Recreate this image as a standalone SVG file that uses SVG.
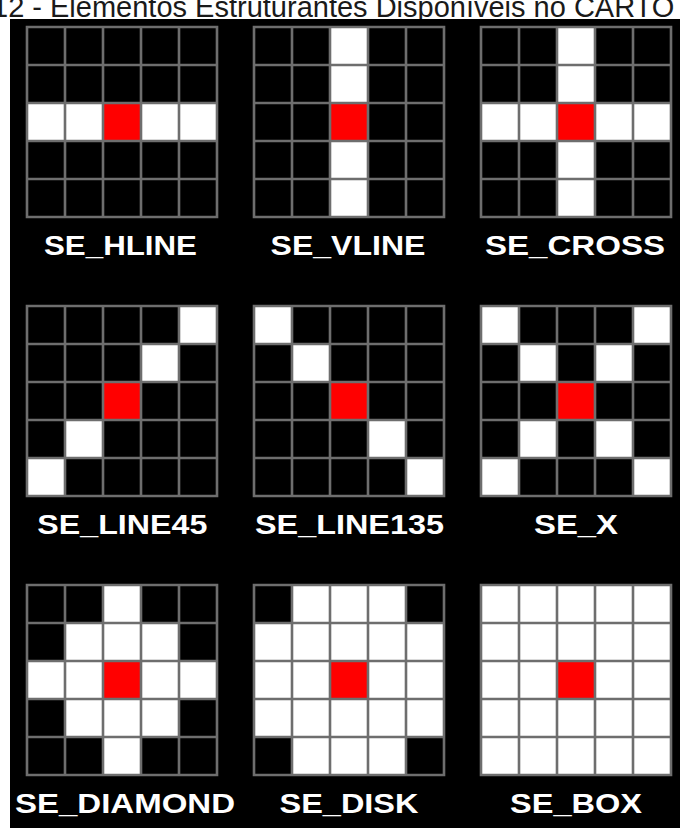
<svg xmlns="http://www.w3.org/2000/svg" xmlns:xlink="http://www.w3.org/1999/xlink" width="680" height="828" viewBox="0 0 680 828">
  <style>
    .title { font-family: "Liberation Sans", Arial, sans-serif; font-size: 29px; fill: #1a1a1a; }
    .lbl { font-family: "Liberation Sans", Arial, sans-serif; font-size: 28px; font-weight: bold; fill: #ffffff; text-anchor: middle; }
    .k { fill: #000000; }
    .w { fill: #ffffff; }
    .r { fill: #ff0000; }
    .gl { fill: none; stroke: #6e6e6e; stroke-width: 2.6; stroke-linecap: square; }
  </style>
  <defs>
    <path id="lines" class="gl" d="M0 0V190M38 0V190M76 0V190M114 0V190M152 0V190M190 0V190M0 0H190M0 38H190M0 76H190M0 114H190M0 152H190M0 190H190"/>
  </defs>
  <rect x="0" y="0" width="680" height="828" fill="#ffffff"/>
  <text class="title" x="-8" y="17">12 - Elementos Estruturantes Disponíveis no CARTO</text>
  <rect x="10" y="19" width="670" height="809" fill="#000000"/>

  <g id="se_hline">
    <g transform="translate(27,27)">
      <rect class="k" width="190" height="190"/>
      <rect class="w" x="0" y="76" width="38" height="38"/>
      <rect class="w" x="38" y="76" width="38" height="38"/>
      <rect class="w" x="114" y="76" width="38" height="38"/>
      <rect class="w" x="152" y="76" width="38" height="38"/>
      <rect class="r" x="76" y="76" width="38" height="38"/>
      <use xlink:href="#lines" href="#lines"/>
    </g>
    <text class="lbl" x="120.5" y="255" textLength="153" lengthAdjust="spacingAndGlyphs">SE_HLINE</text>
  </g>

  <g id="se_vline">
    <g transform="translate(254,27)">
      <rect class="k" width="190" height="190"/>
      <rect class="w" x="76" y="0" width="38" height="38"/>
      <rect class="w" x="76" y="38" width="38" height="38"/>
      <rect class="w" x="76" y="114" width="38" height="38"/>
      <rect class="w" x="76" y="152" width="38" height="38"/>
      <rect class="r" x="76" y="76" width="38" height="38"/>
      <use xlink:href="#lines" href="#lines"/>
    </g>
    <text class="lbl" x="348" y="255" textLength="155" lengthAdjust="spacingAndGlyphs">SE_VLINE</text>
  </g>

  <g id="se_cross">
    <g transform="translate(481,27)">
      <rect class="k" width="190" height="190"/>
      <rect class="w" x="76" y="0" width="38" height="38"/>
      <rect class="w" x="76" y="38" width="38" height="38"/>
      <rect class="w" x="76" y="114" width="38" height="38"/>
      <rect class="w" x="76" y="152" width="38" height="38"/>
      <rect class="w" x="0" y="76" width="38" height="38"/>
      <rect class="w" x="38" y="76" width="38" height="38"/>
      <rect class="w" x="114" y="76" width="38" height="38"/>
      <rect class="w" x="152" y="76" width="38" height="38"/>
      <rect class="r" x="76" y="76" width="38" height="38"/>
      <use xlink:href="#lines" href="#lines"/>
    </g>
    <text class="lbl" x="575" y="255" textLength="180" lengthAdjust="spacingAndGlyphs">SE_CROSS</text>
  </g>

  <g id="se_line45">
    <g transform="translate(27,306)">
      <rect class="k" width="190" height="190"/>
      <rect class="w" x="152" y="0" width="38" height="38"/>
      <rect class="w" x="114" y="38" width="38" height="38"/>
      <rect class="w" x="38" y="114" width="38" height="38"/>
      <rect class="w" x="0" y="152" width="38" height="38"/>
      <rect class="r" x="76" y="76" width="38" height="38"/>
      <use xlink:href="#lines" href="#lines"/>
    </g>
    <text class="lbl" x="122.3" y="534" textLength="170" lengthAdjust="spacingAndGlyphs">SE_LINE45</text>
  </g>

  <g id="se_line135">
    <g transform="translate(254,306)">
      <rect class="k" width="190" height="190"/>
      <rect class="w" x="0" y="0" width="38" height="38"/>
      <rect class="w" x="38" y="38" width="38" height="38"/>
      <rect class="w" x="114" y="114" width="38" height="38"/>
      <rect class="w" x="152" y="152" width="38" height="38"/>
      <rect class="r" x="76" y="76" width="38" height="38"/>
      <use xlink:href="#lines" href="#lines"/>
    </g>
    <text class="lbl" x="349.5" y="534" textLength="189" lengthAdjust="spacingAndGlyphs">SE_LINE135</text>
  </g>

  <g id="se_x">
    <g transform="translate(481,306)">
      <rect class="k" width="190" height="190"/>
      <rect class="w" x="0" y="0" width="38" height="38"/>
      <rect class="w" x="38" y="38" width="38" height="38"/>
      <rect class="w" x="114" y="114" width="38" height="38"/>
      <rect class="w" x="152" y="152" width="38" height="38"/>
      <rect class="w" x="152" y="0" width="38" height="38"/>
      <rect class="w" x="114" y="38" width="38" height="38"/>
      <rect class="w" x="38" y="114" width="38" height="38"/>
      <rect class="w" x="0" y="152" width="38" height="38"/>
      <rect class="r" x="76" y="76" width="38" height="38"/>
      <use xlink:href="#lines" href="#lines"/>
    </g>
    <text class="lbl" x="576" y="534" textLength="84" lengthAdjust="spacingAndGlyphs">SE_X</text>
  </g>

  <g id="se_diamond">
    <g transform="translate(27,585)">
      <rect class="k" width="190" height="190"/>
      <rect class="w" x="76" y="0" width="38" height="38"/>
      <rect class="w" x="38" y="38" width="114" height="38"/>
      <rect class="w" x="0" y="76" width="190" height="38"/>
      <rect class="w" x="38" y="114" width="114" height="38"/>
      <rect class="w" x="76" y="152" width="38" height="38"/>
      <rect class="r" x="76" y="76" width="38" height="38"/>
      <use xlink:href="#lines" href="#lines"/>
    </g>
    <text class="lbl" x="125" y="813" textLength="220" lengthAdjust="spacingAndGlyphs">SE_DIAMOND</text>
  </g>

  <g id="se_disk">
    <g transform="translate(254,585)">
      <rect class="w" width="190" height="190"/>
      <rect class="k" x="0" y="0" width="38" height="38"/>
      <rect class="k" x="152" y="0" width="38" height="38"/>
      <rect class="k" x="0" y="152" width="38" height="38"/>
      <rect class="k" x="152" y="152" width="38" height="38"/>
      <rect class="r" x="76" y="76" width="38" height="38"/>
      <use xlink:href="#lines" href="#lines"/>
    </g>
    <text class="lbl" x="349" y="813" textLength="139" lengthAdjust="spacingAndGlyphs">SE_DISK</text>
  </g>

  <g id="se_box">
    <g transform="translate(481,585)">
      <rect class="w" width="190" height="190"/>
      <rect class="r" x="76" y="76" width="38" height="38"/>
      <use xlink:href="#lines" href="#lines"/>
    </g>
    <text class="lbl" x="576" y="813" textLength="132" lengthAdjust="spacingAndGlyphs">SE_BOX</text>
  </g>

  <g id="connectors"></g>
</svg>
